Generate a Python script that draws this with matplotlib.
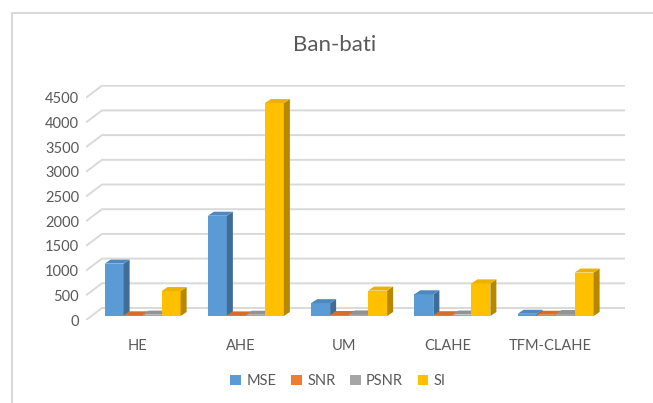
import matplotlib
matplotlib.use("Agg")
import matplotlib.pyplot as plt
from matplotlib.patches import Polygon, Patch
from matplotlib.lines import Line2D

# data
categories = ["HE", "AHE", "UM", "CLAHE", "TFM-CLAHE"]
series = ["MSE", "SNR", "PSNR", "SI"]
mse = [1060, 2030, 260, 440, 45]
snr = [14, 12, 20, 16, 25]
psnr = [28, 26, 32, 30, 40]
si = [505, 4310, 515, 660, 880]
yticks = [0, 500, 1000, 1500, 2000, 2500, 3000, 3500, 4000, 4500]

front = ["#5B9BD5", "#ED7D31", "#A5A5A5", "#FFC000"]
side = ["#3F6D97", "#A85823", "#767676", "#B58800"]
top = ["#4E88C0", "#D66E28", "#939393", "#EDB200"]

plt.rcParams["font.family"] = ["Lato", "DejaVu Sans"]
txt = "#595959"
grid_c = "#D9D9D9"

fig = plt.figure(figsize=(6.53, 4.03), dpi=100)
W, H = 653, 403
ax = fig.add_axes([86 / W, (H - 320) / H, 539 / W, 235 / H])

px_x = 103.25          # pixels per category
uy = 500 / 24.7        # data units per pixel (y)
ax.set_xlim(-0.5, -0.5 + 539 / px_x)
ax.set_ylim(0, 235 * uy)

# floor / wall gridlines with a slanted side segment
back_dx = 16 / px_x
back_dy = 12 * uy
for v in yticks:
    ax.plot([-0.5, -0.5 + back_dx, ax.get_xlim()[1]],
            [v, v + back_dy, v + back_dy],
            color=grid_c, lw=1.4, zorder=1, solid_capstyle="butt")

# pseudo-3D bars
bw = 19 / px_x
dx = 6 / px_x
dy = 4 * uy
base = 4 * uy
start = -33 / px_x
values = [mse, snr, psnr, si]
z = 2
for i in range(len(categories)):
    for s in range(len(series)):
        x0 = i + start + s * bw
        x1 = x0 + bw
        y0 = base
        y1 = base + values[s][i]
        ax.add_patch(Polygon([[x0, y0], [x1, y0], [x1, y1], [x0, y1]],
                             closed=True, fc=front[s], ec="none", zorder=z))
        ax.add_patch(Polygon([[x1, y0], [x1 + dx, y0 + dy], [x1 + dx, y1 + dy], [x1, y1]],
                             closed=True, fc=side[s], ec="none", zorder=z))
        ax.add_patch(Polygon([[x0, y1], [x1, y1], [x1 + dx, y1 + dy], [x0 + dx, y1 + dy]],
                             closed=True, fc=top[s], ec="none", zorder=z))
        z += 1

ax.set_yticks(yticks)
ax.set_yticklabels([str(v) for v in yticks])
ax.set_xticks(range(len(categories)))
ax.set_xticklabels(categories)
ax.tick_params(axis="y", length=0, pad=5, labelsize=10.5, labelcolor=txt)
ax.tick_params(axis="x", length=0, pad=14, labelsize=10.5, labelcolor=txt)
for sp in ax.spines.values():
    sp.set_visible(False)

fig.text(335 / W, 1 - 45 / H, "Ban-bati", ha="center", va="center",
         fontsize=16, color=txt)

handles = [Patch(facecolor=front[s], edgecolor="none") for s in range(len(series))]
fig.legend(handles, series, loc="center", bbox_to_anchor=(338 / W, 1 - 381 / H),
           ncol=4, frameon=False, fontsize=10.5, labelcolor=txt,
           handlelength=0.75, handleheight=0.75, handletextpad=0.35,
           columnspacing=1.0)

# chart area border (cut off at right and bottom)
fig.add_artist(Line2D([12.5 / W, 12.5 / W], [0, 1 - 12.5 / H], color=grid_c, lw=1.5))
fig.add_artist(Line2D([12.5 / W, 1], [1 - 12.5 / H, 1 - 12.5 / H], color=grid_c, lw=1.5))

fig.savefig("out.png", dpi=100)
